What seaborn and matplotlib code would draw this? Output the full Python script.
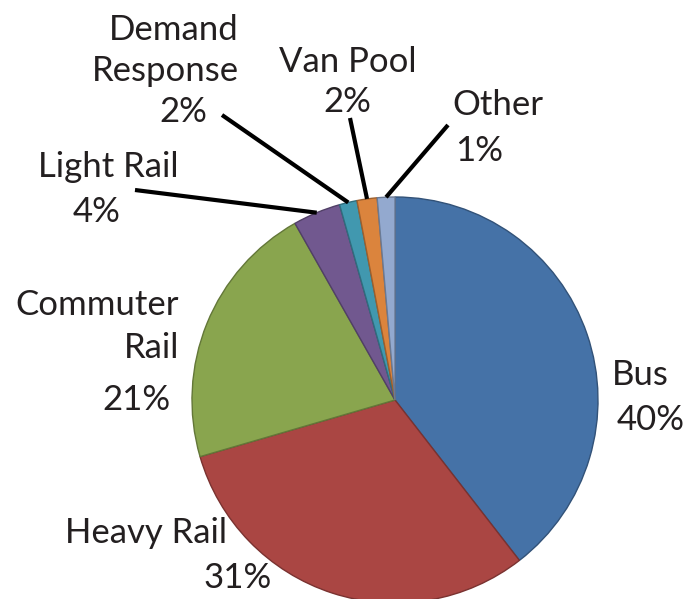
import numpy as np
import matplotlib
matplotlib.use('Agg')
import matplotlib.pyplot as plt
import matplotlib.colors as mcolors
import seaborn as sns

# share of transit trips by mode
MODES = ['Bus', 'Heavy Rail', 'Commuter\nRail', 'Light Rail',
         'Demand\nResponse', 'Van Pool', 'Other']
SHARES = [39.5, 31.0, 21.3, 3.8, 1.4, 1.6, 1.4]
PCT_LABELS = ['40%', '31%', '21%', '4%', '2%', '2%', '1%']
COLORS = ['#4572a7', '#aa4643', '#89a54e', '#71588f', '#4198af', '#db843d', '#93a9cf']

# layout in picture pixels (700x599 canvas, pie centre at 395,400, radius 203)
CX, CY, R = 395, 400, 203
W, H = 700, 599
# name: (x, baseline of first line, line step, ha)
NAME_POS = [(612, 385, 0, 'left'),
            (65, 543, 0, 'left'),
            (179, 315, 43, 'right'),
            (38, 177, 0, 'left'),
            (239, 40, 41, 'right'),
            (348, 72, 0, 'center'),
            (452, 115, 0, 'left')]
PCT_POS = [(617, 430, 'left'),
           (272, 588, 'right'),
           (170, 410, 'right'),
           (73, 222, 'left'),
           (207, 122, 'right'),
           (347, 112, 'center'),
           (455, 161, 'left')]
# leader lines start (picture pixels), only for the thin slices
LEADER_START = {3: (135, 190), 4: (222, 115), 5: (350, 118), 6: (448, 125)}

TEXT_COLOR = '#231f20'


def px(x, y):
    return (x - CX) / R, (CY - y) / R


sns.set_theme(style='white')
plt.rcParams['font.family'] = ['Lato', 'DejaVu Sans']

fig = plt.figure(figsize=(W / 100, H / 100), dpi=100)
ax = fig.add_axes([0, 0, 1, 1])

wedges, _ = ax.pie(SHARES, colors=COLORS, startangle=90, counterclock=False,
                   radius=1.0, wedgeprops=dict(linewidth=1.0))
for w, c in zip(wedges, COLORS):
    dark = np.array(mcolors.to_rgb(c)) * 0.72
    w.set_edgecolor(dark)

fs = 25
for i, name in enumerate(MODES):
    x, y0, step, ha = NAME_POS[i]
    for k, line in enumerate(name.split('\n')):
        ax.text(*px(x, y0 + k * step), line, ha=ha, va='baseline',
                fontsize=fs, color=TEXT_COLOR)
    x, y, ha = PCT_POS[i]
    ax.text(*px(x, y), PCT_LABELS[i], ha=ha, va='baseline',
            fontsize=fs, color=TEXT_COLOR)

for i, (sx, sy) in LEADER_START.items():
    w = wedges[i]
    ang = np.deg2rad((w.theta1 + w.theta2) / 2)
    ex, ey = np.cos(ang), np.sin(ang)
    x0, y0 = px(sx, sy)
    ax.plot([x0, ex], [y0, ey], color='black', lw=3.0, solid_capstyle='butt')

ax.set_xlim(-CX / R, (W - CX) / R)
ax.set_ylim(-(H - CY) / R, CY / R)
ax.set_aspect('equal', adjustable='box')
ax.axis('off')

fig.savefig('out.png', dpi=100)
